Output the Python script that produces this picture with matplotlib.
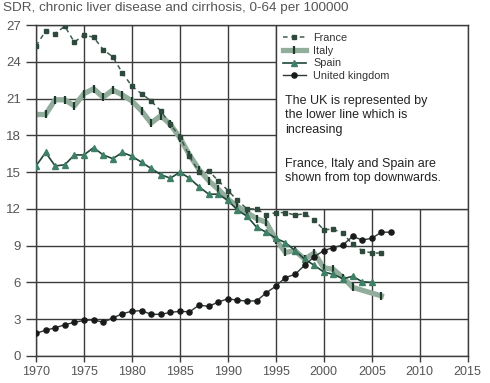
import numpy as np
import matplotlib
matplotlib.use("Agg")
from matplotlib import pyplot as plt
from matplotlib.patches import Rectangle

plt.rcParams['font.family'] = ['Liberation Sans', 'DejaVu Sans']

# data
france_years = list(range(1970, 2007))
france = [25.3, 26.5, 26.3, 26.9, 25.6, 26.2, 26.0, 25.0, 24.4, 23.1,
          22.0, 21.4, 20.8, 20.0, 18.9, 17.9, 16.3, 15.0, 15.1, 14.3,
          13.5, 12.7, 12.0, 12.0, 11.5, 11.7, 11.7, 11.5, 11.6, 11.1,
          10.3, 10.35, 10.0, 9.1, 8.6, 8.4, 8.4]

italy_years = list(range(1970, 2004)) + [2006]
italy = [19.7, 19.7, 20.9, 20.9, 20.4, 21.4, 21.8, 21.1, 21.7, 21.3,
         20.8, 20.0, 19.0, 19.6, 18.9, 17.8, 16.4, 15.2, 14.3, 13.6,
         12.8, 12.2, 11.7, 11.2, 10.9, 9.5, 8.45, 8.6, 7.9, 8.4,
         7.2, 7.07, 6.4, 5.6, 4.9]

spain_years = list(range(1970, 2006))
spain = [15.5, 16.6, 15.5, 15.6, 16.4, 16.4, 17.0, 16.4, 16.1, 16.6,
         16.3, 15.8, 15.3, 14.8, 14.5, 15.0, 14.5, 13.8, 13.2, 13.2,
         12.7, 11.9, 11.4, 10.5, 10.1, 9.6, 9.25, 8.6, 7.9, 7.4,
         6.85, 6.66, 6.3, 6.5, 6.06, 6.0]

uk_years = list(range(1970, 2008))
uk = [1.85, 2.1, 2.3, 2.55, 2.75, 2.9, 2.95, 2.75, 3.1, 3.45,
      3.65, 3.7, 3.4, 3.4, 3.55, 3.65, 3.6, 4.15, 4.05, 4.4,
      4.67, 4.55, 4.48, 4.5, 5.15, 5.7, 6.4, 6.66, 7.4, 8.1,
      8.6, 8.85, 9.05, 9.76, 9.46, 9.6, 10.1, 10.1]

xticks = np.arange(1970, 2016, 5)
yticks = np.arange(0, 28, 3)

title = "SDR, chronic liver disease and cirrhosis, 0-64 per 100000"
note1 = "The UK is represented by\nthe lower line which is\nincreasing"
note2 = "France, Italy and Spain are\nshown from top downwards."

W, H = 490, 383
fig = plt.figure(figsize=(W / 100, H / 100), dpi=100)
ax = fig.add_axes([36 / W, 1 - 356 / H, (467.7 - 36) / W, (356 - 25) / H])

ax.set_xlim(1970, 2015)
ax.set_ylim(0, 27)
ax.set_xticks(xticks)
ax.set_yticks(yticks)
ax.set_axisbelow(True)
ax.grid(True, color='#3c3c3c', linewidth=1.0)
for s in ax.spines.values():
    s.set_color('#3c3c3c')
    s.set_linewidth(1.0)
ax.tick_params(axis='x', length=4.5, pad=3, width=1.0, color='#3c3c3c',
               labelsize=9, labelcolor='#555555')
ax.tick_params(axis='y', length=7, pad=4, width=1.0, color='#3c3c3c',
               labelsize=9.5, labelcolor='#555555')

# box holding the legend and the notes
ax.add_patch(Rectangle((1995, 12), 20, 15, facecolor='white', edgecolor='#3a3a3a',
                       linewidth=1.0, zorder=1.5))

l_it, = ax.plot(italy_years, italy, color='#92ad9c', linewidth=3.8, marker='|',
                markersize=6, markeredgewidth=1.6, markeredgecolor='#1e3a2c',
                label='Italy', zorder=2)
l_fr, = ax.plot(france_years, france, color='#3d5e4e', linewidth=1.1,
                linestyle=(0, (3, 2.5)), marker='s', markersize=3.2,
                markerfacecolor='#2e4a3d', markeredgecolor='#2e4a3d',
                label='France', zorder=3)
l_sp, = ax.plot(spain_years, spain, color='#21473a', linewidth=1.2, marker='^',
                markersize=4, markerfacecolor='#3f8066', markeredgecolor='#3f8066',
                label='Spain', zorder=3)
l_uk, = ax.plot(uk_years, uk, color='#2b3b34', linewidth=1.0, marker='o',
                markersize=3.7, markerfacecolor='#1a1a1a', markeredgecolor='#1a1a1a',
                label='United kingdom', zorder=4)

ax.legend(handles=[l_fr, l_it, l_sp, l_uk], loc='upper left',
          bbox_to_anchor=(283 / W, 1 - 33 / H), bbox_transform=fig.transFigure,
          frameon=False, fontsize=7.8, borderpad=0, borderaxespad=0,
          handlelength=2.1, handletextpad=0.7, labelspacing=0.25,
          labelcolor='#333333')

fig.text(285 / W, 1 - 95 / H, note1, fontsize=9, color='#222222',
         va='top', linespacing=1.25)
fig.text(285 / W, 1 - 158 / H, note2, fontsize=9, color='#222222',
         va='top', linespacing=1.25)

fig.text(3 / W, 1 - 8 / H, title, fontsize=9.7, color='#555555',
         va='center', ha='left')

fig.savefig('out.png', dpi=100)
